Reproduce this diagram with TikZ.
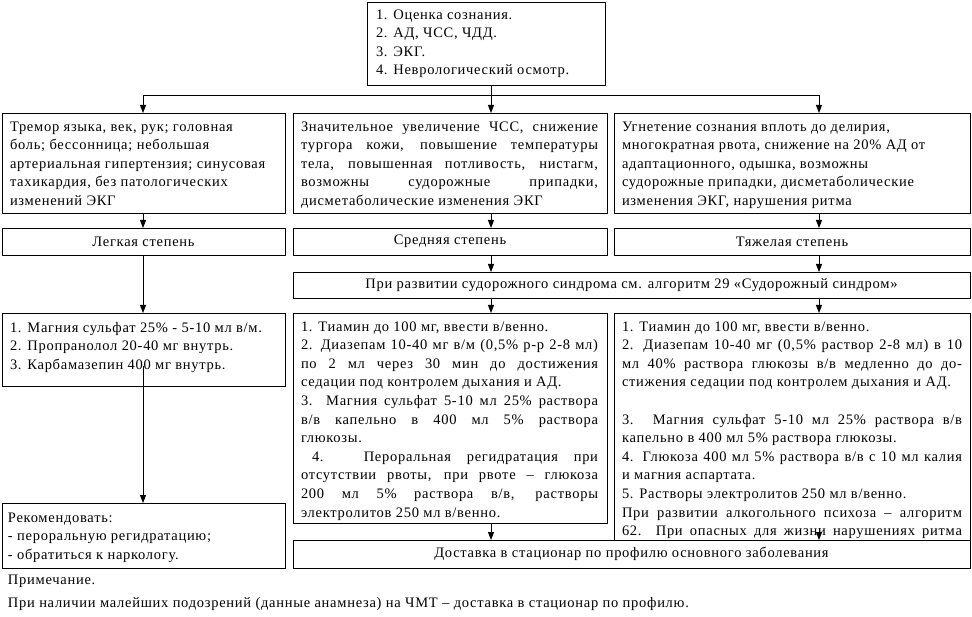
\documentclass[tikz,border=0pt]{standalone}
\usepackage{fontspec}
\setmainfont{Liberation Serif}[LetterSpace=5]
\usetikzlibrary{arrows.meta}
\newcommand\JL[2]{\makebox[#1][s]{#2}}
\newcommand\fsz{\fontsize{14.5}{18.6}\selectfont}
\begin{document}
\begin{tikzpicture}[x=1pt,y=-1pt,
  every node/.style={inner sep=0pt,outer sep=0pt},
  box/.style={draw,line width=0.9pt,anchor=north west,fill=white},
  sbox/.style={box,font=\fsz},
  txt/.style={anchor=north west,align=left,font=\fsz},
  ln/.style={line width=0.9pt},
  arr/.style={line width=0.9pt,-{Triangle[width=6pt,length=8pt]}}]
\useasboundingbox[fill=white] (0,0) rectangle (972,617);

% column coordinates
\coordinate (cl) at (143,0);
\coordinate (cm) at (491,0);
\coordinate (cr) at (819,0);
\coordinate (hl) at (0,95);

% top box
\node[box,minimum width=238pt,minimum height=83pt] (top) at (367,2) {};
\node[txt] (topt) at (376,6) {\strut 1. Оценка сознания.\\2. АД, ЧСС, ЧДД.\\3. ЭКГ.\\4. Неврологический осмотр.};

% row 1
\node[box,minimum width=283pt,minimum height=100pt] (l1) at (2,113) {};
\node[box,minimum width=314pt,minimum height=100pt] (m1) at (293,113) {};
\node[box,minimum width=356pt,minimum height=100pt] (r1) at (614,113) {};
\node[txt] (l1t) at (10,118) {\strut Тремор языка, век, рук; головная\\боль; бессонница; небольшая\\артериальная гипертензия; синусовая\\тахикардия, без патологических\\изменений ЭКГ};
\node[txt] (m1t) at (301,118) {\strut\JL{297pt}{Значительное увеличение ЧСС, снижение}\\\JL{297pt}{тургора кожи, повышение температуры}\\\JL{297pt}{тела, повышенная потливость, нистагм,}\\\JL{297pt}{возможны судорожные припадки,}\\дисметаболические изменения ЭКГ};
\node[txt] (r1t) at (622,118) {\strut Угнетение сознания вплоть до делирия,\\многократная рвота, снижение на 20\% АД от\\адаптационного, одышка, возможны\\судорожные припадки, дисметаболические\\изменения ЭКГ, нарушения ритма};

% degree boxes
\node[sbox,minimum width=283pt,minimum height=27pt] (l2) at (2,228) {Легкая степень};
\node[sbox,minimum width=314pt,minimum height=27pt] (m2) at (293,228) {Средняя степень};
\node[sbox,minimum width=356pt,minimum height=27pt] (r2) at (614,228) {Тяжелая степень};

% convulsion box
\node[sbox,minimum width=677pt,minimum height=26pt] (conv) at (293,272) {При развитии судорожного синдрома см. алгоритм 29 «Судорожный синдром»};

% treatment boxes
\node[box,minimum width=283pt,minimum height=73pt] (l3) at (2,313) {};
\node[box,minimum width=314pt,minimum height=210pt] (m3) at (293,313) {};
\node[box,minimum width=356pt,minimum height=240pt] (r3) at (614,313) {};
\node[txt] (l3t) at (10,319) {\strut 1. Магния сульфат 25\% - 5-10 мл в/м.\\2. Пропранолол 20-40 мг внутрь.\\3. Карбамазепин 400 мг внутрь.};
\node[txt] (m3t) at (301,318) {\strut 1. Тиамин до 100 мг, ввести в/венно.\\
\JL{297pt}{2. Диазепам 10-40 мг в/м (0,5\% р-р 2-8 мл)}\\
\JL{297pt}{по 2 мл через 30 мин до достижения}\\
седации под контролем дыхания и АД.\\
\JL{297pt}{3. Магния сульфат 5-10 мл 25\% раствора}\\
\JL{297pt}{в/в капельно в 400 мл 5\% раствора}\\
глюкозы.\\
\hspace*{11pt}\JL{286pt}{4. Пероральная регидратация при}\\
\JL{297pt}{отсутствии рвоты, при рвоте – глюкоза}\\
\JL{297pt}{200 мл 5\% раствора в/в, растворы}\\
электролитов 250 мл в/венно.};
\node[txt] (r3t) at (622,318) {\strut 1. Тиамин до 100 мг, ввести в/венно.\\
\JL{340pt}{2. Диазепам 10-40 мг (0,5\% раствор 2-8 мл) в 10}\\
\JL{340pt}{мл 40\% раствора глюкозы в/в медленно до до-}\\
стижения седации под контролем дыхания и АД.\\
\mbox{}\\
\JL{340pt}{3. Магния сульфат 5-10 мл 25\% раствора в/в}\\
капельно в 400 мл 5\% раствора глюкозы.\\
\JL{340pt}{4. Глюкоза 400 мл 5\% раствора в/в с 10 мл калия}\\
и магния аспартата.\\
5. Растворы электролитов 250 мл в/венно.\\
\JL{340pt}{При развитии алкогольного психоза – алгоритм}\\
\JL{340pt}{62. При опасных для жизни нарушениях ритма}};

% bottom boxes
\node[box,minimum width=283pt,minimum height=65pt] (rec) at (2,503) {};
\node[txt] (rect) at (8,509) {\strut Рекомендовать:\\- пероральную регидратацию;\\- обратиться к наркологу.};
\node[sbox,minimum width=677pt,minimum height=28pt] (deliv) at (293,540) {Доставка в стационар по профилю основного заболевания};

% notes
\node[txt] (note) at (8,571) {\strut Примечание.\\[4.4pt]При наличии малейших подозрений (данные анамнеза) на ЧМТ – доставка в стационар по профилю.};

% connectors
\draw[arr] (top.south -| cm) -- (m1.north -| cm);
\draw[ln] (cl |- hl) -- (cr |- hl);
\draw[arr] (cl |- hl) -- (l1.north -| cl);
\draw[arr] (cr |- hl) -- (r1.north -| cr);
\draw[arr] (l1.south -| cl) -- (l2.north -| cl);
\draw[arr] (m1.south -| cm) -- (m2.north -| cm);
\draw[arr] (r1.south -| cr) -- (r2.north -| cr);
\draw[arr] (l2.south -| cl) -- (l3.north -| cl);
\draw[arr] (m2.south -| cm) -- (conv.north -| cm);
\draw[arr] (r2.south -| cr) -- (conv.north -| cr);
\draw[arr] (conv.south -| cm) -- (m3.north -| cm);
\draw[arr] (conv.south -| cr) -- (r3.north -| cr);
\coordinate (ls) at (143,366);
\draw[arr] (ls) -- (rec.north -| cl);
\draw[arr] (m3.south -| cm) -- (deliv.north -| cm);
\coordinate (rs) at (819,528);
\draw[arr] (rs) -- (deliv.north -| cr);
\end{tikzpicture}
\end{document}
